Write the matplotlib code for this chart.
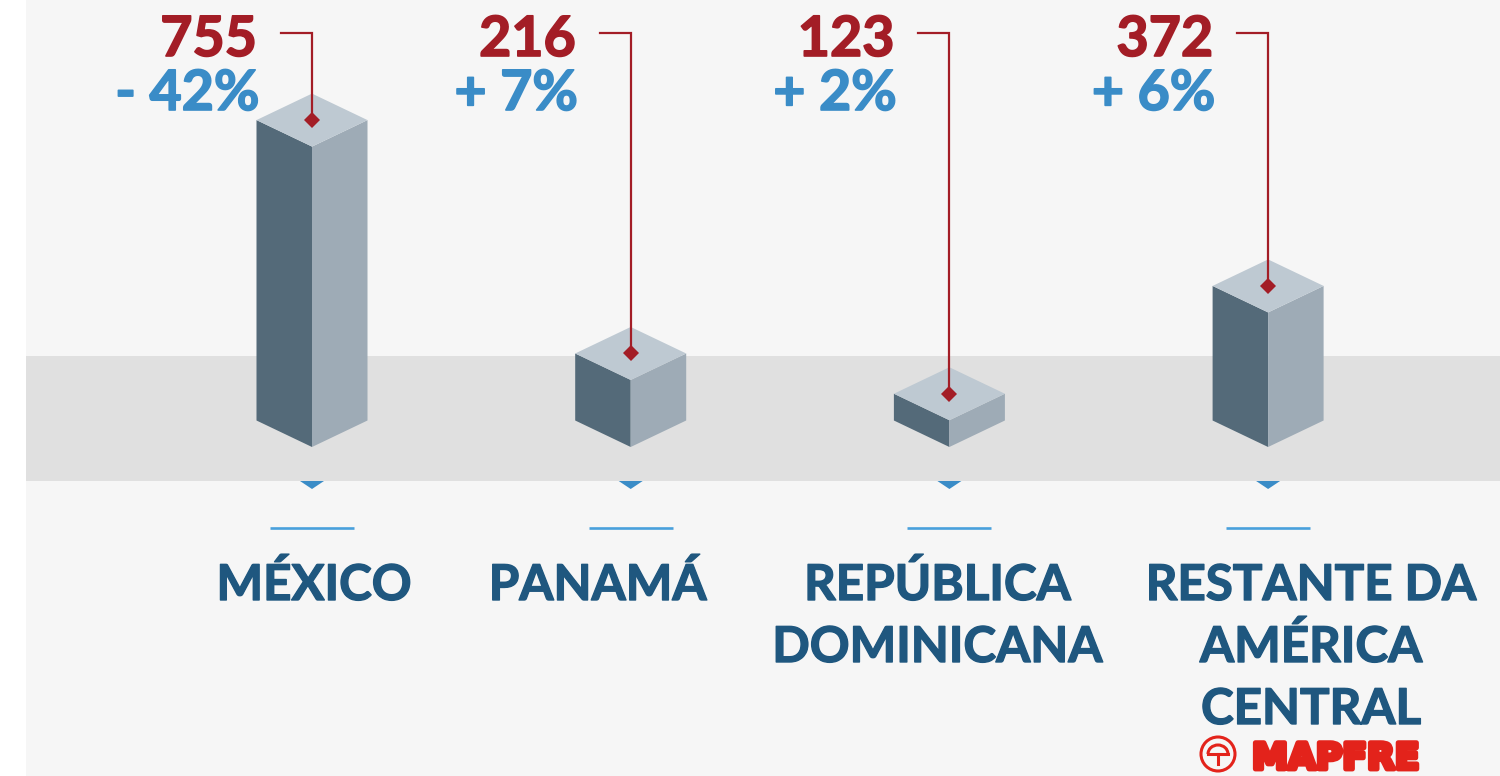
import matplotlib
matplotlib.use("Agg")
import matplotlib.pyplot as plt
from matplotlib.patches import Polygon, Rectangle, Arc, Ellipse
import matplotlib.patheffects as pe

# ---------------- data ----------------
countries = ["MÉXICO", "PANAMÁ", "REPÚBLICA\nDOMINICANA", "RESTANTE DA\nAMÉRICA\nCENTRAL"]
values = [755, 216, 123, 372]
value_labels = ["755", "216", "123", "372"]
change_labels = ["- 42%", "+ 7%", "+ 2%", "+ 6%"]

# ---------------- layout / style ----------------
W, H = 1500, 776
X0, SX = 312.0, 318.7        # pixel x of first category, pixels per category
YB, K = 447.0, 0.433         # pixel y of box front-bottom, pixels per value unit
HALF_W = 55.5                # box half width (px)
HALF_D = 26.5                # iso depth (px)
name_dx = [2, -33, -12, 43]  # label centre offsets (px)

C_BG = "#f6f6f6"
C_BAND = "#e0e0e0"
C_LEFT = "#546a79"
C_RIGHT = "#9eabb6"
C_TOP = "#bec9d2"
C_RED = "#a31d26"
C_BLUE = "#3a8cc7"
C_LINE = "#49a0dc"
C_NAME = "#1f577f"
C_LOGO = "#e3231b"

FONT = "Lato"


def X(px):
    return (px - X0) / SX


def Y(py):
    return (YB - py) / K


def bold(color, w=1.0):
    return [pe.withStroke(linewidth=w, foreground=color)]


fig = plt.figure(figsize=(W / 100, H / 100), dpi=100)
fig.patch.set_facecolor("white")
ax = fig.add_axes([0, 0, 1, 1])
ax.set_xlim(X(0), X(W))
ax.set_ylim(Y(H), Y(0))
ax.axis("off")

dx = HALF_W / SX
dd = HALF_D / K

# background and band
ax.add_patch(Rectangle((X(26), Y(H)), X(W) - X(26), Y(0) - Y(H), color=C_BG, lw=0, zorder=0))
ax.add_patch(Rectangle((X(26), Y(481)), X(W) - X(26), Y(356) - Y(481), color=C_BAND, lw=0, zorder=1))

for i, (v, vl, cl, name) in enumerate(zip(values, value_labels, change_labels, countries)):
    cx = i
    # iso box: top face centre at value v, front-bottom vertex at 0
    left = [(cx - dx, v), (cx, v - dd), (cx, 0), (cx - dx, dd)]
    right = [(cx + dx, v), (cx, v - dd), (cx, 0), (cx + dx, dd)]
    top = [(cx, v + dd), (cx - dx, v), (cx, v - dd), (cx + dx, v)]
    ax.add_patch(Polygon(left, closed=True, color=C_LEFT, lw=0, zorder=3))
    ax.add_patch(Polygon(right, closed=True, color=C_RIGHT, lw=0, zorder=3))
    ax.add_patch(Polygon(top, closed=True, color=C_TOP, lw=0, zorder=3))

    # leader line + marker
    ax.plot([cx - 31 / SX, cx, cx], [Y(33), Y(33), v], color=C_RED, lw=1.6,
            solid_joinstyle="miter", zorder=4)
    ax.plot([cx], [v], marker="D", markersize=8, color=C_RED, mew=0, zorder=5)

    # value & change
    ax.text(cx - 55 / SX, Y(56), vl, color=C_RED, fontsize=40, fontweight="bold",
            family=FONT, ha="right", va="baseline", zorder=6, path_effects=bold(C_RED, 1.2))
    ax.text(cx - 53 / SX, Y(110), cl, color=C_BLUE, fontsize=40, fontweight="bold",
            family=FONT, ha="right", va="baseline", zorder=6, path_effects=bold(C_BLUE, 1.2))

    # triangle and line under band
    ax.add_patch(Polygon([(cx - 12 / SX, Y(481)), (cx + 12 / SX, Y(481)), (cx, Y(489))],
                         closed=True, color=C_BLUE, lw=0, zorder=2))
    ax.plot([cx - 42 / SX, cx + 42 / SX], [Y(528), Y(528)], color=C_LINE, lw=1.9,
            solid_capstyle="butt", zorder=2)

    # country name
    for j, line in enumerate(name.split("\n")):
        ax.text(cx + name_dx[i] / SX, Y(600 + 62 * j), line, color=C_NAME, fontsize=35.5,
                fontweight="bold", family=FONT, ha="center", va="baseline", zorder=6,
                path_effects=bold(C_NAME, 1.0))

# MAPFRE logo
ax.text(X(1252), Y(776), "MAPFRE", color=C_LOGO, fontsize=26, fontweight="bold",
        family="DejaVu Sans", ha="left", va="bottom", zorder=6,
        path_effects=bold(C_LOGO, 3.5))
ax.add_patch(Ellipse((X(1218), Y(754)), 34 / SX, 34 / K, fill=False, ec=C_LOGO, lw=2.2, zorder=6))
ax.add_patch(Arc((X(1218), Y(754)), 20 / SX, 18 / K, theta1=0, theta2=180, ec=C_LOGO, lw=2.2, zorder=6))
ax.plot([X(1208), X(1228)], [Y(754), Y(754)], color=C_LOGO, lw=2.2, zorder=6)
ax.plot([X(1218), X(1218)], [Y(754), Y(764)], color=C_LOGO, lw=2.2, zorder=6)

fig.savefig("out.png", dpi=100, facecolor=fig.get_facecolor())
